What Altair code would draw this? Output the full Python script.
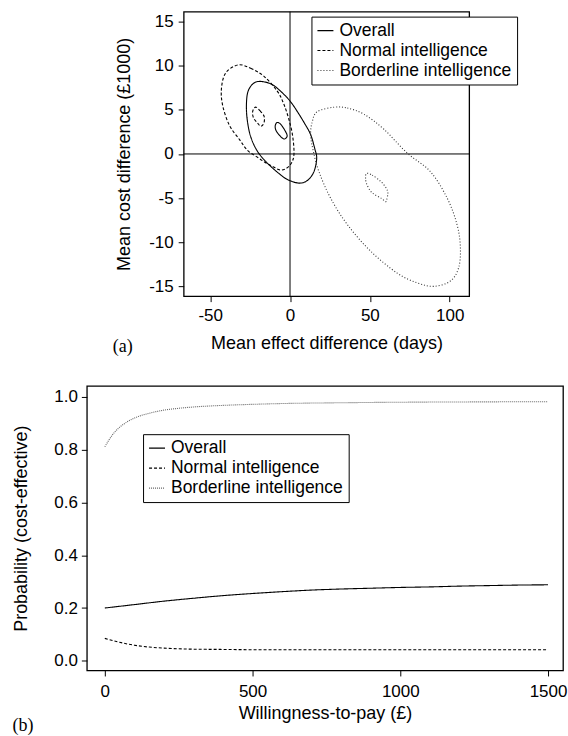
import altair as alt
import pandas as pd

FONT = "Liberation Sans"
GROUPS = ["Overall", "Normal intelligence", "Borderline intelligence"]

# ---------- Panel (a): contour points ----------
overall_outer_x = [-17.3, -11.5, -5.8, 0.0, 4.6, 9.0, 12.9, 15.5, 16.7, 15.0, 10.9, 5.6, -1.6, -7.0,
                   -12.1, -16.5, -20.4, -23.5, -25.6, -27.0, -27.3, -26.6, -24.5, -21.4]
overall_outer_y = [8.2, 7.9, 7.1, 6.0, 4.8, 3.5, 2.2, 0.6, -0.5, -2.0, -3.0, -3.3, -2.9, -2.2,
                   -1.4, -0.6, 0.3, 1.4, 2.6, 4.2, 5.6, 6.9, 7.7, 8.15]
overall_inner_x = [-7.3, -5.5, -3.0, -1.8, -2.5, -3.9, -6.0, -8.6, -9.3, -8.6]
overall_inner_y = [3.55, 3.3, 2.6, 2.1, 1.8, 1.7, 2.0, 2.6, 3.1, 3.5]

normal_outer_x = [-32.5, -24.6, -16.3, -7.9, -4.0, -1.0, 1.5, 2.5, 1.0, -2.5, -6.5, -11.0, -16.0,
                  -21.0, -26.6, -31.5, -38.1, -42.3, -42.9, -40.2]
normal_outer_y = [10.1, 9.7, 8.8, 7.1, 5.7, 4.1, 2.2, 0.1, -1.0, -1.65, -1.8, -1.4, -0.9,
                  -0.3, 0.4, 1.6, 3.3, 5.6, 7.5, 9.2]
normal_inner_x = [-21.2, -18.8, -16.3, -16.1, -17.0, -18.5, -20.3, -22.6, -23.5, -22.8]
normal_inner_y = [5.3, 4.9, 4.3, 3.7, 3.3, 3.15, 3.5, 4.0, 4.6, 5.1]

border_outer_x = [27.5, 35.9, 46.3, 58.8, 73.4, 87.9, 98.4, 104.6, 106.7, 105.6, 100.4, 90.0, 79.6,
                  67.1, 50.4, 35.9, 25.4, 18.1, 14.6, 12.9, 14.0, 17.1]
border_outer_y = [5.3, 5.2, 4.5, 2.8, 0.1, -2.0, -5.0, -8.0, -10.6, -12.9, -14.4, -15.0, -14.6,
                  -13.5, -11.0, -8.0, -5.0, -2.0, 0.3, 2.2, 3.7, 4.8]
border_inner_x = [48.0, 51.5, 56.7, 60.0, 61.3, 60.5, 59.8, 57.0, 53.0, 50.4, 48.0, 47.3]
border_inner_y = [-2.2, -2.4, -3.1, -3.8, -4.4, -5.2, -5.4, -5.0, -4.6, -4.2, -3.4, -2.7]

# ---------- Panel (b): acceptability curves ----------
wtp_overall = [0, 100, 200, 300, 400, 500, 600, 700, 800, 900, 1000, 1100, 1200, 1300, 1400, 1500]
p_overall = [0.200, 0.213, 0.226, 0.237, 0.247, 0.255, 0.262, 0.268, 0.272, 0.275, 0.278, 0.280,
             0.283, 0.285, 0.287, 0.288]
wtp_normal = [0, 50, 100, 150, 200, 300, 400, 500, 700, 1000, 1500]
p_normal = [0.085, 0.070, 0.059, 0.052, 0.048, 0.044, 0.043, 0.042, 0.042, 0.042, 0.042]
wtp_border = [0, 25, 50, 75, 100, 150, 200, 250, 300, 400, 500, 600, 800, 1000, 1200, 1500]
p_border = [0.811, 0.855, 0.885, 0.905, 0.920, 0.938, 0.950, 0.957, 0.962, 0.968, 0.972, 0.975,
            0.978, 0.980, 0.981, 0.982]


def contour(name, group, xs, ys):
    return pd.DataFrame({"contour": name, "group": group, "i": list(range(len(xs))), "x": xs, "y": ys})


a_df = pd.concat([
    contour("o1", GROUPS[0], overall_outer_x, overall_outer_y),
    contour("o2", GROUPS[0], overall_inner_x, overall_inner_y),
    contour("n1", GROUPS[1], normal_outer_x, normal_outer_y),
    contour("n2", GROUPS[1], normal_inner_x, normal_inner_y),
    contour("b1", GROUPS[2], border_outer_x, border_outer_y),
    contour("b2", GROUPS[2], border_inner_x, border_inner_y),
], ignore_index=True)

b_df = pd.concat([
    pd.DataFrame({"group": GROUPS[0], "x": wtp_overall, "y": p_overall}),
    pd.DataFrame({"group": GROUPS[1], "x": wtp_normal, "y": p_normal}),
    pd.DataFrame({"group": GROUPS[2], "x": wtp_border, "y": p_border}),
], ignore_index=True)

one = alt.Data(values=[{}])


def legend(x, y):
    return alt.Legend(title=None, orient="none", legendX=x, legendY=y, strokeColor="black",
                      fillColor="white", padding=5, symbolType="stroke", symbolSize=256,
                      symbolStrokeWidth=1.1, labelFont=FONT, labelFontSize=17.5, labelColor="black",
                      labelLimit=400, rowPadding=2, labelOffset=5, cornerRadius=0)


# layout offsets (pixels)
BLANK_W = 15        # width of the empty cell left of panel (a)
A_LEFT = 80         # room left of panel (a)'s plot area
A_SHIFT = BLANK_W + A_LEFT + 1

# ---------- Panel (a) ----------
WA, HA = 286, 285
xa = alt.X("x:Q", scale=alt.Scale(domain=[-66.6, 112.2], nice=False, zero=False),
           axis=alt.Axis(values=[-50, 0, 50, 100], title="Mean effect difference (days)",
                         labelExpr="'' + datum.value", labelPadding=6, titlePadding=10.5))
ya = alt.Y("y:Q", scale=alt.Scale(domain=[-16.11, 16.13], nice=False, zero=False),
           axis=alt.Axis(values=[-15, -10, -5, 0, 5, 10, 15], title="Mean cost difference (£1000)",
                         labelExpr="'' + datum.value", labelPadding=5, titlePadding=15.5))

# legend of the nested row is placed relative to the row, so add the shift
lg_a = legend(129 + A_SHIFT, 5)
contours_a = alt.Chart(a_df).mark_line(interpolate="cardinal-closed", strokeWidth=1.1).encode(
    x=xa, y=ya, detail="contour:N", order="i:Q",
    strokeDash=alt.StrokeDash("group:N", scale=alt.Scale(domain=GROUPS, range=[[1, 0], [3, 2], [1, 2]]),
                              legend=lg_a),
    color=alt.Color("group:N", scale=alt.Scale(domain=GROUPS, range=["#000000", "#000000", "#333333"]),
                    legend=lg_a),
)
vline_a = alt.Chart(one).mark_rule(color="black", strokeWidth=1).encode(x=alt.datum(0))
hline_a = alt.Chart(one).mark_rule(color="black", strokeWidth=1).encode(y=alt.datum(0))
tag_a = alt.Chart(one).mark_text(font="Liberation Serif", fontSize=18, color="black",
                                 align="center", baseline="middle").encode(
    x=alt.value(-61), y=alt.value(335.5), text=alt.value("(a)"))
spacer_a = alt.Chart(one).mark_rule(strokeOpacity=0, strokeWidth=1).encode(
    x=alt.value(-A_LEFT), y=alt.value(-9.5), y2=alt.value(363))

panel_a = alt.layer(vline_a, hline_a, contours_a, tag_a, spacer_a).properties(width=WA, height=HA)

# empty cell that shifts panel (a) to the right of panel (b)'s left edge
blank = alt.Chart(one).mark_rule(strokeOpacity=0).encode(
    x=alt.value(0), y=alt.value(0), y2=alt.value(1)
).properties(width=BLANK_W, height=1, view=alt.ViewBackground(stroke="transparent"))

row_a = alt.concat(blank, panel_a, columns=2, spacing=0, align="none")

# ---------- Panel (b) ----------
WB, HB = 477, 285
xb = alt.X("x:Q", scale=alt.Scale(domain=[-60.8, 1550.7], nice=False, zero=False),
           axis=alt.Axis(values=[0, 500, 1000, 1500], title="Willingness-to-pay (£)",
                         labelExpr="'' + datum.value", labelPadding=8, titlePadding=5))
yb = alt.Y("y:Q", scale=alt.Scale(domain=[-0.0367, 1.0416], nice=False, zero=False),
           axis=alt.Axis(values=[0, 0.2, 0.4, 0.6, 0.8, 1.0], format=".1f",
                         title="Probability (cost-effective)", labelPadding=4, titlePadding=23))
lg_b = legend(56.3, 48.3)
lines_b = alt.Chart(b_df).mark_line(interpolate="monotone", strokeWidth=1.1).encode(
    x=xb, y=yb,
    strokeDash=alt.StrokeDash("group:N", scale=alt.Scale(domain=GROUPS, range=[[1, 0], [3, 2], [1, 1]]),
                              legend=lg_b),
    color=alt.Color("group:N", scale=alt.Scale(domain=GROUPS, range=["#000000", "#000000", "#666666"]),
                    legend=lg_b),
)
tag_b = alt.Chart(one).mark_text(font="Liberation Serif", fontSize=18, color="black",
                                 align="center", baseline="middle").encode(
    x=alt.value(-64), y=alt.value(340.5), text=alt.value("(b)"))
spacer_b = alt.Chart(one).mark_rule(strokeOpacity=0, strokeWidth=1).encode(
    x=alt.value(-85.5), y=alt.value(-10), y2=alt.value(10))

panel_b = alt.layer(lines_b, tag_b, spacer_b).properties(width=WB, height=HB)

chart = alt.vconcat(row_a, panel_b, spacing=0).resolve_scale(
    x="independent", y="independent", color="independent", strokeDash="independent"
).resolve_legend(color="independent", strokeDash="independent").properties(
    padding={"left": 0, "top": 0, "right": 0, "bottom": 0}, background="white"
).configure_view(stroke="black", strokeWidth=1.3).configure_axis(
    grid=False, domain=False, ticks=True, tickSize=5.5, tickColor="black", tickWidth=1,
    labelFont=FONT, labelFontSize=17, labelColor="black",
    titleFont=FONT, titleFontSize=18, titleFontWeight="normal", titleColor="black",
)

chart.save("out.html", embed_options={"renderer": "svg", "actions": False})
